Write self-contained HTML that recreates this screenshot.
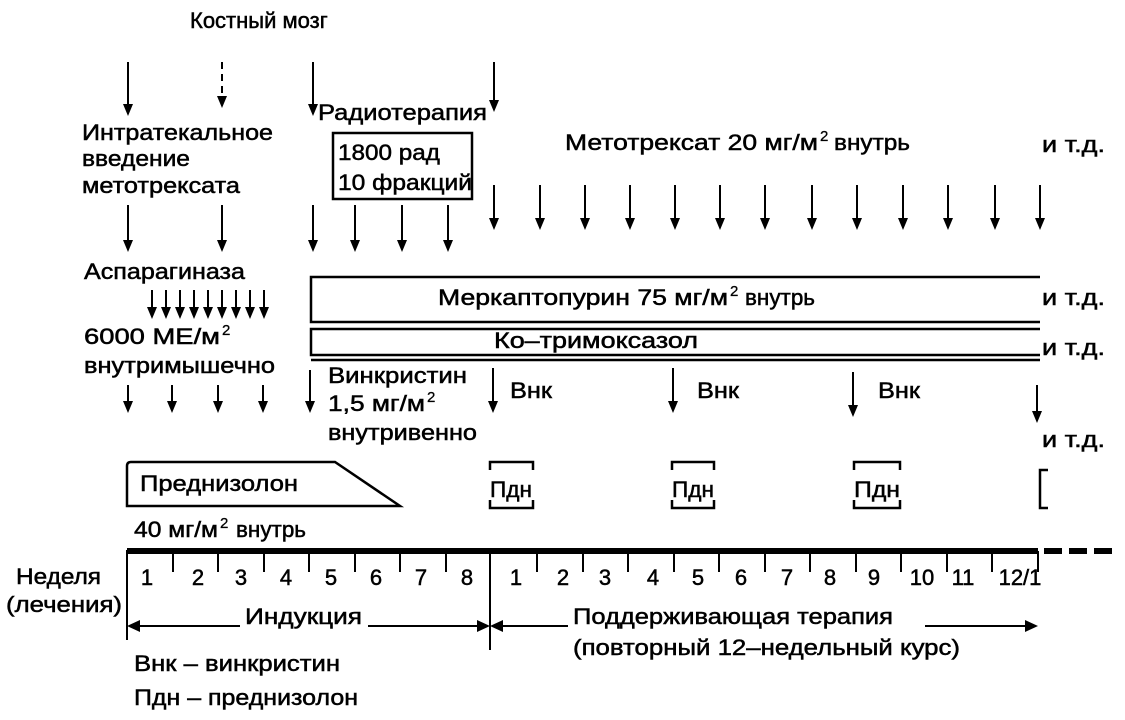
<!DOCTYPE html>
<html><head><meta charset="utf-8"><style>
html,body{margin:0;padding:0;background:#fff;}
svg{display:block;}
text{font-family:"Liberation Sans","Noto Sans CJK SC",sans-serif;font-size:22px;fill:#000;stroke:#000;stroke-width:0.5;}
text.s{font-size:15px;stroke-width:0.3;}
</style></head><body>
<svg width="1125" height="720" viewBox="0 0 1125 720" xmlns="http://www.w3.org/2000/svg">
<g stroke="#000" stroke-width="2" fill="none">
<path d="M128,62 V104"/><path d="M313,62 V104"/><path d="M494,62 V100"/>
<path d="M222,62 V96" stroke-dasharray="7,5"/>
<path d="M128,205 V240"/><path d="M222,205 V240"/><path d="M313,205 V240"/>
<path d="M355,205 V240"/><path d="M402,205 V240"/><path d="M448,205 V240"/>
<path d="M494,185 V218"/><path d="M540,185 V218"/><path d="M585,185 V218"/><path d="M630,185 V218"/><path d="M675,185 V218"/><path d="M720,185 V218"/><path d="M765,185 V218"/><path d="M812,185 V218"/><path d="M857,185 V218"/><path d="M903,185 V218"/><path d="M948,185 V218"/><path d="M995,185 V218"/><path d="M1040,185 V218"/>
<path d="M152,290 V309"/><path d="M166,290 V309"/><path d="M180,290 V309"/><path d="M194,290 V309"/><path d="M208,290 V309"/><path d="M222,290 V309"/><path d="M236,290 V309"/><path d="M250,290 V309"/><path d="M264,290 V309"/>
<path d="M128,385 V402"/><path d="M172,385 V402"/><path d="M218,385 V402"/><path d="M263,385 V402"/><path d="M310,370 V402"/>
<path d="M493,368 V402"/><path d="M673,368 V402"/><path d="M853,372 V406"/><path d="M1037,385 V412"/>
</g>
<g fill="#000">
<path d="M123,104 L133,104 L128,116 Z"/><path d="M308,104 L318,104 L313,116 Z"/><path d="M489,100 L499,100 L494,112 Z"/><path d="M217,96 L227,96 L222,108 Z"/>
<path d="M123,240 L133,240 L128,252 Z"/><path d="M217,240 L227,240 L222,252 Z"/><path d="M308,240 L318,240 L313,252 Z"/><path d="M350,240 L360,240 L355,252 Z"/><path d="M397,240 L407,240 L402,252 Z"/><path d="M443,240 L453,240 L448,252 Z"/>
<path d="M489,218 L499,218 L494,230 Z"/><path d="M535,218 L545,218 L540,230 Z"/><path d="M580,218 L590,218 L585,230 Z"/><path d="M625,218 L635,218 L630,230 Z"/><path d="M670,218 L680,218 L675,230 Z"/><path d="M715,218 L725,218 L720,230 Z"/><path d="M760,218 L770,218 L765,230 Z"/><path d="M807,218 L817,218 L812,230 Z"/><path d="M852,218 L862,218 L857,230 Z"/><path d="M898,218 L908,218 L903,230 Z"/><path d="M943,218 L953,218 L948,230 Z"/><path d="M990,218 L1000,218 L995,230 Z"/><path d="M1035,218 L1045,218 L1040,230 Z"/>
<path d="M147,307 L157,307 L152,319 Z"/><path d="M161,307 L171,307 L166,319 Z"/><path d="M175,307 L185,307 L180,319 Z"/><path d="M189,307 L199,307 L194,319 Z"/><path d="M203,307 L213,307 L208,319 Z"/><path d="M217,307 L227,307 L222,319 Z"/><path d="M231,307 L241,307 L236,319 Z"/><path d="M245,307 L255,307 L250,319 Z"/><path d="M259,307 L269,307 L264,319 Z"/>
<path d="M123,401 L133,401 L128,413 Z"/><path d="M167,401 L177,401 L172,413 Z"/><path d="M213,401 L223,401 L218,413 Z"/><path d="M258,401 L268,401 L263,413 Z"/><path d="M305,401 L315,401 L310,413 Z"/>
<path d="M488,401 L498,401 L493,413 Z"/><path d="M668,401 L678,401 L673,413 Z"/><path d="M848,405 L858,405 L853,417 Z"/><path d="M1032,411 L1042,411 L1037,423 Z"/>
</g>
<g stroke="#000" fill="none" stroke-width="2.5">
<rect x="333" y="133" width="139" height="66"/>
<path d="M1040,277 H311 V322 H1040"/>
<path d="M1040,329 H311 V355 H1040"/>
<path d="M1040,360 H311"/>
<path d="M335,462 H131 Q127,462 127,466 V506 H400 Z"/>
<path d="M490,470 V462 H533 V470 M490,500 V508 H533 V500"/>
<path d="M672,470 V462 H714 V470 M672,500 V508 H714 V500"/>
<path d="M854,470 V462 H900 V470 M854,500 V508 H900 V500"/>
<path d="M1048,470 H1040 V508 H1048"/>
<path d="M127,550 V640" stroke-width="2"/>
<path d="M490,550 V650" stroke-width="2"/>
</g>
<path d="M127,551 H1038" stroke="#000" stroke-width="6"/>
<path d="M1044,551 H1112" stroke="#000" stroke-width="6" stroke-dasharray="18,7"/>
<g stroke="#000" stroke-width="2">
<path d="M173,551 V572 M218,551 V572 M264,551 V572 M309,551 V572 M355,551 V572 M400,551 V572 M446,551 V572 M537,551 V572 M583,551 V572 M628,551 V572 M674,551 V572 M719,551 V572 M765,551 V572 M810,551 V572 M856,551 V572 M901,551 V572 M947,551 V572 M992,551 V572 M1038,551 V572"/>
<path d="M135,626 H240 M368,626 H482 M498,626 H568 M925,626 H1028"/>
</g>
<path d="M127,626 L140,620 L140,632 Z M490,626 L477,620 L477,632 Z M490,626 L503,620 L503,632 Z M1038,626 L1025,620 L1025,632 Z" fill="#000"/>
<g>
<text x="190" y="28">Костный мозг</text>
<text x="318" y="120" textLength="169" lengthAdjust="spacingAndGlyphs">Радиотерапия</text>
<text x="82" y="140" textLength="191" lengthAdjust="spacingAndGlyphs">Интратекальное</text>
<text x="82" y="166" textLength="108" lengthAdjust="spacingAndGlyphs">введение</text>
<text x="82" y="193" textLength="158" lengthAdjust="spacingAndGlyphs">метотрексата</text>
<text x="338" y="160" textLength="102" lengthAdjust="spacingAndGlyphs">1800 рад</text>
<text x="338" y="190" textLength="134" lengthAdjust="spacingAndGlyphs">10 фракций</text>
<text x="565" y="150" textLength="253" lengthAdjust="spacingAndGlyphs">Метотрексат 20 мг/м</text>
<text class="s" x="820" y="141">2</text>
<text x="834" y="150" textLength="76" lengthAdjust="spacingAndGlyphs">внутрь</text>
<text x="1042" y="152" textLength="63" lengthAdjust="spacingAndGlyphs">и т.д.</text>
<text x="84" y="279" textLength="161" lengthAdjust="spacingAndGlyphs">Аспарагиназа</text>
<text x="438" y="305" textLength="290" lengthAdjust="spacingAndGlyphs">Меркаптопурин 75 мг/м</text>
<text class="s" x="730" y="296">2</text>
<text x="745" y="305" textLength="70" lengthAdjust="spacingAndGlyphs">внутрь</text>
<text x="1042" y="305" textLength="63" lengthAdjust="spacingAndGlyphs">и т.д.</text>
<text x="84" y="344" textLength="136" lengthAdjust="spacingAndGlyphs">6000 МЕ/м</text>
<text class="s" x="222" y="335">2</text>
<text x="494" y="348" textLength="204" lengthAdjust="spacingAndGlyphs">Ко–тримоксазол</text>
<text x="1042" y="355" textLength="63" lengthAdjust="spacingAndGlyphs">и т.д.</text>
<text x="84" y="373" textLength="191" lengthAdjust="spacingAndGlyphs">внутримышечно</text>
<text x="328" y="383" textLength="139" lengthAdjust="spacingAndGlyphs">Винкристин</text>
<text x="328" y="411" textLength="97" lengthAdjust="spacingAndGlyphs">1,5 мг/м</text>
<text class="s" x="427" y="402">2</text>
<text x="328" y="440" textLength="149" lengthAdjust="spacingAndGlyphs">внутривенно</text>
<text x="510" y="398" textLength="42" lengthAdjust="spacingAndGlyphs">Внк</text>
<text x="697" y="398" textLength="42" lengthAdjust="spacingAndGlyphs">Внк</text>
<text x="878" y="398" textLength="42" lengthAdjust="spacingAndGlyphs">Внк</text>
<text x="1042" y="447" textLength="63" lengthAdjust="spacingAndGlyphs">и т.д.</text>
<text x="140" y="491" textLength="158" lengthAdjust="spacingAndGlyphs">Преднизолон</text>
<text x="490" y="497" textLength="42" lengthAdjust="spacingAndGlyphs">Пдн</text>
<text x="672" y="497" textLength="42" lengthAdjust="spacingAndGlyphs">Пдн</text>
<text x="854" y="497" textLength="46" lengthAdjust="spacingAndGlyphs">Пдн</text>
<text x="134" y="537" textLength="84" lengthAdjust="spacingAndGlyphs">40 мг/м</text>
<text class="s" x="220" y="528">2</text>
<text x="236" y="537" textLength="70" lengthAdjust="spacingAndGlyphs">внутрь</text>
<text x="16" y="584" textLength="85" lengthAdjust="spacingAndGlyphs">Неделя</text>
<text x="6" y="612" textLength="116" lengthAdjust="spacingAndGlyphs">(лечения)</text>
<g text-anchor="middle">
<text x="147" y="585">1</text><text x="198" y="585">2</text><text x="241" y="585">3</text><text x="286" y="585">4</text><text x="331" y="585">5</text><text x="376" y="585">6</text><text x="421" y="585">7</text><text x="467" y="585">8</text>
<text x="516" y="585">1</text><text x="563" y="585">2</text><text x="605" y="585">3</text><text x="653" y="585">4</text><text x="698" y="585">5</text><text x="741" y="585">6</text><text x="787" y="585">7</text><text x="830" y="585">8</text><text x="874" y="585">9</text><text x="922" y="585">10</text><text x="963" y="585">11</text><text x="1020" y="585">12/1</text>
</g>
<text x="245" y="624" textLength="117" lengthAdjust="spacingAndGlyphs">Индукция</text>
<text x="573" y="624" textLength="320" lengthAdjust="spacingAndGlyphs">Поддерживающая терапия</text>
<text x="573" y="655" textLength="387" lengthAdjust="spacingAndGlyphs">(повторный 12–недельный курс)</text>
<text x="134" y="671" textLength="206" lengthAdjust="spacingAndGlyphs">Внк – винкристин</text>
<text x="134" y="705" textLength="224" lengthAdjust="spacingAndGlyphs">Пдн – преднизолон</text>
</g>
</svg>
</body></html>
